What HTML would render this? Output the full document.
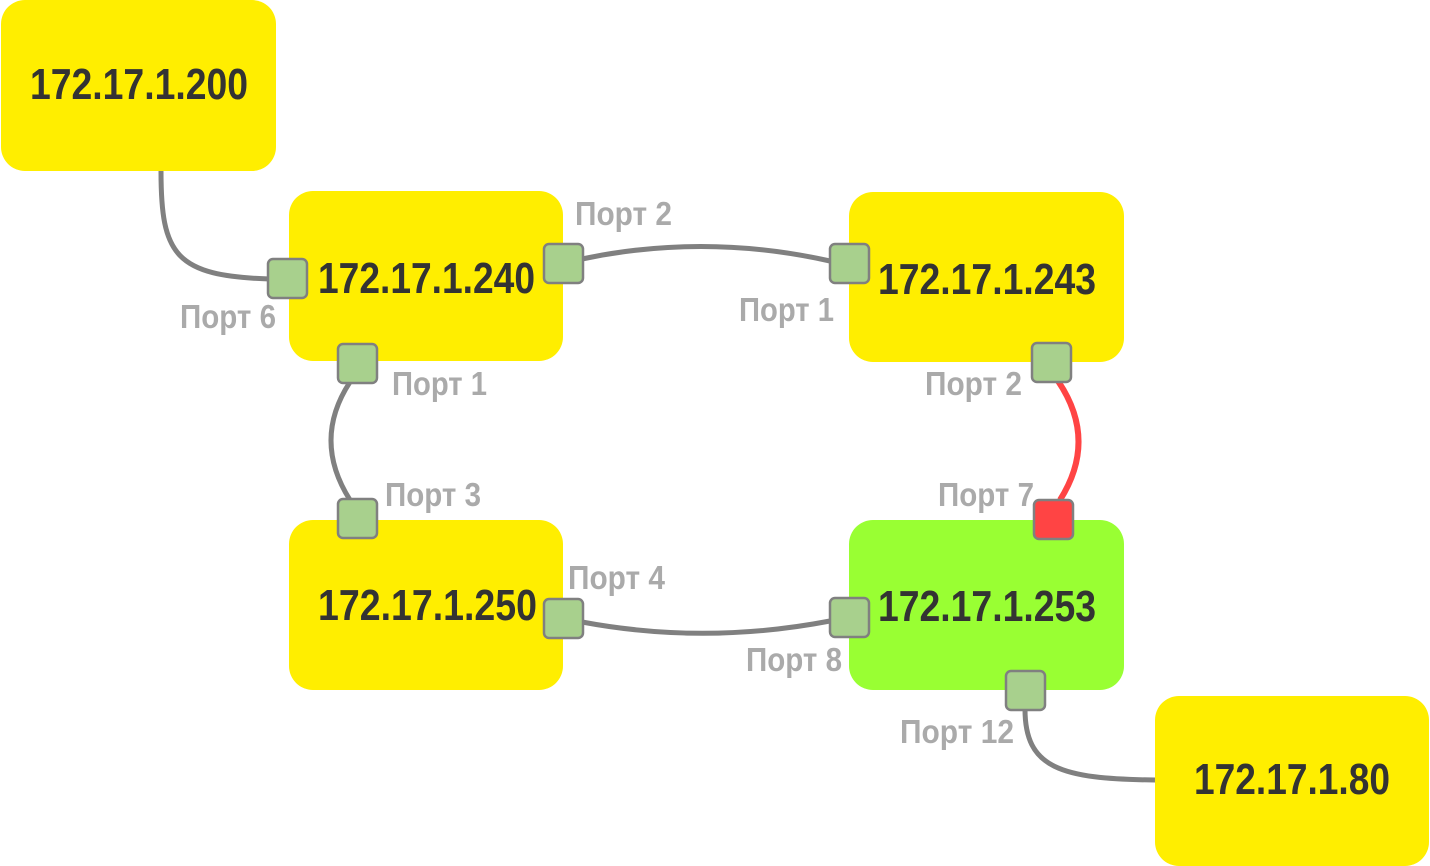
<!DOCTYPE html>
<html><head><meta charset="utf-8"><style>html,body{margin:0;padding:0;background:#fff;}svg{display:block}</style></head>
<body>
<svg width="1430" height="866" viewBox="0 0 1430 866" xmlns="http://www.w3.org/2000/svg">
<g fill="#ffee00">
<rect x="1" y="0" width="275" height="171" rx="24"/>
<rect x="289" y="191" width="274" height="170" rx="24"/>
<rect x="849" y="192" width="275" height="170" rx="24"/>
<rect x="289" y="520" width="274" height="170" rx="24"/>
<rect x="849" y="520" width="275" height="170" rx="24" fill="#99ff33"/>
<rect x="1155" y="696" width="274" height="170" rx="24"/>
</g>
<g fill="none" stroke="#808080" stroke-width="5">
<path d="M161 171 C161 255 175 276 270 279"/>
<path d="M582 259 Q705 233 830 261"/>
<path d="M350 382 Q312 440 350 500"/>
<path d="M582 622 Q705 645 830 621"/>
<path d="M1025 709 C1025 768 1060 779 1155 780"/>
<path d="M1058 381 Q1098 440 1060 500" stroke="#ff4444" stroke-width="6"/>
</g>
<g fill="#a8d08d" stroke="#808080" stroke-width="2.5">
<rect x="268" y="259" width="39" height="39" rx="5"/>
<rect x="544" y="244" width="39" height="39" rx="5"/>
<rect x="338" y="344" width="39" height="39" rx="5"/>
<rect x="830" y="244" width="39" height="39" rx="5"/>
<rect x="1032" y="343" width="39" height="39" rx="5"/>
<rect x="338" y="499" width="39" height="39" rx="5"/>
<rect x="544" y="599" width="39" height="39" rx="5"/>
<rect x="830" y="598" width="39" height="39" rx="5"/>
<rect x="1034" y="500" width="39" height="39" rx="5" fill="#ff4444"/>
<rect x="1006" y="671" width="39" height="39" rx="5"/>
</g>
<g font-family="Liberation Sans, sans-serif" font-weight="bold" font-size="44" fill="#333" lengthAdjust="spacingAndGlyphs">
<text x="30" y="99" textLength="218" lengthAdjust="spacingAndGlyphs">172.17.1.200</text>
<text x="318" y="293" textLength="217" lengthAdjust="spacingAndGlyphs">172.17.1.240</text>
<text x="878" y="294" textLength="218" lengthAdjust="spacingAndGlyphs">172.17.1.243</text>
<text x="318" y="620" textLength="219" lengthAdjust="spacingAndGlyphs">172.17.1.250</text>
<text x="878" y="621" textLength="218" lengthAdjust="spacingAndGlyphs">172.17.1.253</text>
<text x="1194" y="794" textLength="196" lengthAdjust="spacingAndGlyphs">172.17.1.80</text>
</g>
<g font-family="Liberation Sans, sans-serif" font-weight="bold" font-size="33" fill="#aaaaaa">
<text x="180" y="328" textLength="96" lengthAdjust="spacingAndGlyphs">Порт 6</text>
<text x="575" y="225" textLength="97" lengthAdjust="spacingAndGlyphs">Порт 2</text>
<text x="392" y="395" textLength="95" lengthAdjust="spacingAndGlyphs">Порт 1</text>
<text x="739" y="321" textLength="95" lengthAdjust="spacingAndGlyphs">Порт 1</text>
<text x="925" y="395" textLength="97" lengthAdjust="spacingAndGlyphs">Порт 2</text>
<text x="385" y="506" textLength="96" lengthAdjust="spacingAndGlyphs">Порт 3</text>
<text x="568" y="589" textLength="97" lengthAdjust="spacingAndGlyphs">Порт 4</text>
<text x="746" y="671" textLength="96" lengthAdjust="spacingAndGlyphs">Порт 8</text>
<text x="938" y="506" textLength="96" lengthAdjust="spacingAndGlyphs">Порт 7</text>
<text x="900" y="743" textLength="114" lengthAdjust="spacingAndGlyphs">Порт 12</text>
</g>
</svg>
</body></html>
